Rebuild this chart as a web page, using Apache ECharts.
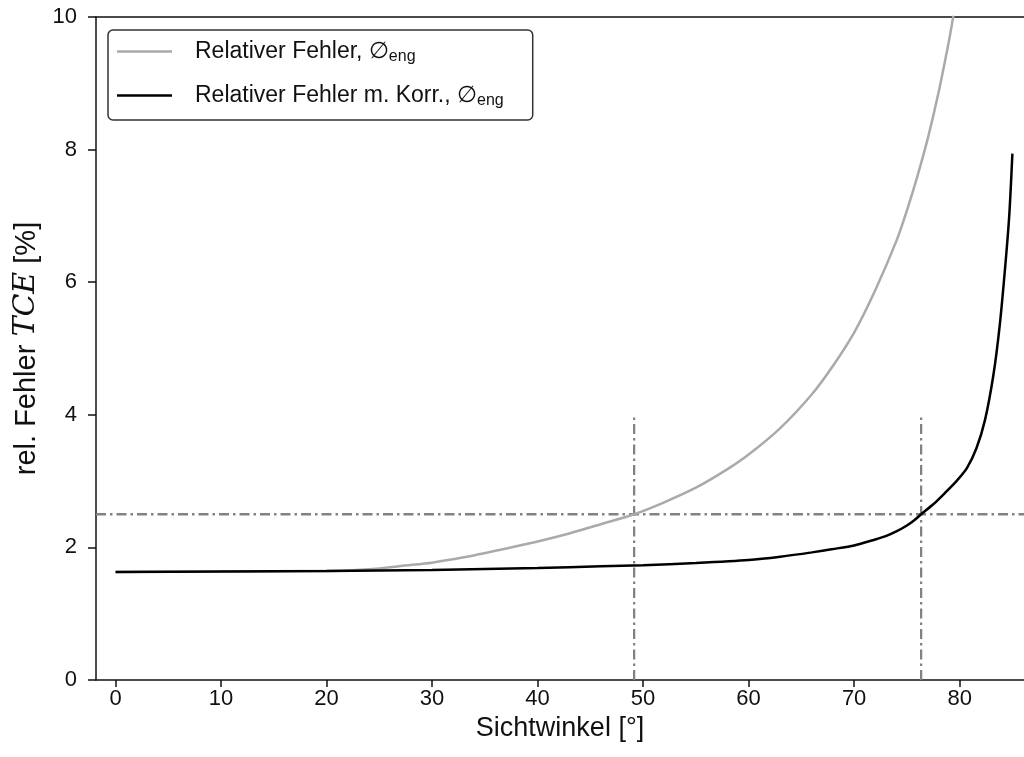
<!DOCTYPE html>
<html>
<head>
<meta charset="utf-8">
<script src="https://cdn.jsdelivr.net/npm/echarts@6/dist/echarts.min.js"></script>
<style>html,body{margin:0;padding:0;background:#fff;}#c{width:1024px;height:757px;}</style>
</head>
<body>
<div id="c"></div>
<script>
// Data
const xTicks = [0, 10, 20, 30, 40, 50, 60, 70, 80];
const grayX = [0, 5, 10, 15, 20, 22, 25, 27, 30, 33, 36, 40, 43, 46, 49.15, 52, 55, 58, 60, 63, 66, 68, 70, 72, 74, 75, 76, 77, 78, 79, 79.3, 79.7];
const grayY = [1.63, 1.632, 1.635, 1.64, 1.645, 1.65, 1.68, 1.72, 1.77, 1.85, 1.95, 2.09, 2.21, 2.35, 2.5, 2.68, 2.9, 3.18, 3.4, 3.8, 4.31, 4.74, 5.24, 5.88, 6.62, 7.08, 7.6, 8.18, 8.86, 9.65, 9.92, 10.3];
const blackX = [0, 10, 20, 30, 40, 46, 50, 55, 60, 63, 66, 68, 70, 72, 73, 74, 75, 75.7, 76.35, 77.5, 78.6, 79.7, 80.7, 81.6, 82.4, 83.2, 83.8, 84.3, 84.7, 85];
const blackY = [1.63, 1.635, 1.645, 1.66, 1.69, 1.715, 1.73, 1.765, 1.81, 1.86, 1.925, 1.975, 2.03, 2.12, 2.17, 2.24, 2.33, 2.41, 2.5, 2.65, 2.82, 3.0, 3.2, 3.5, 3.92, 4.6, 5.35, 6.2, 7.0, 7.94];
const refLevel = 2.5;
const cutoffX = [49.15, 76.35];
const cutoffTop = 4;
const xMin = -1.85, xMax = 86.1;

const zip = (a, b) => a.map((v, i) => [v, b[i]]);
const font = 'Liberation Sans, Arial, sans-serif';
const dashDot = [10, 4, 2.5, 4];
const refColor = '#828282';
const ink = '#111';

const chart = echarts.init(document.getElementById('c'), null, {renderer: 'canvas'});
const refSeries = [
  {
    type: 'line', data: [[xMin, refLevel], [xMax, refLevel]], symbol: 'none', silent: true,
    lineStyle: {color: refColor, width: 2.3, type: dashDot}, z: 1
  }
].concat(cutoffX.map(x => ({
  type: 'line', data: [[x, 0], [x, cutoffTop]], symbol: 'none', silent: true,
  lineStyle: {color: refColor, width: 2.3, type: dashDot}, z: 1
})));

chart.setOption({
  animation: false,
  backgroundColor: '#fff',
  grid: {left: 96, right: 0, top: 17, bottom: 77, containLabel: false},
  legend: {
    left: 108, top: 30, orient: 'vertical',
    data: ['gray', 'black'],
    icon: 'rect',
    backgroundColor: '#fff', borderColor: '#333', borderWidth: 1.5, borderRadius: 5,
    padding: [8, 29, 11, 9],
    itemWidth: 55, itemHeight: 2.5, itemGap: 17,
    formatter: function (name) {
      if (name === 'gray') return '{t|Relativer Fehler, ∅}{s|eng}';
      return '{t|Relativer Fehler m. Korr., ∅}{s|eng}';
    },
    textStyle: {
      padding: [0, 0, 0, 18],
      rich: {
        t: {fontSize: 23, lineHeight: 27, fontFamily: font, color: ink},
        s: {fontSize: 16, lineHeight: 27, fontFamily: font, color: ink, padding: [11, 0, 0, 0]}
      }
    }
  },
  xAxis: [{
    type: 'value', min: xMin, max: xMax,
    name: 'Sichtwinkel [°]', nameLocation: 'middle', nameGap: 20,
    nameTextStyle: {fontSize: 27, fontFamily: font, color: ink},
    axisLine: {show: true, onZero: false, lineStyle: {color: ink, width: 1.5}},
    axisTick: {show: true, length: 7, inside: false, customValues: xTicks, lineStyle: {color: ink, width: 1.5}},
    axisLabel: {show: true, margin: 8, fontSize: 22, fontFamily: font, color: ink, customValues: xTicks},
    splitLine: {show: false}
  }, {
    type: 'value', position: 'top', min: xMin, max: xMax,
    axisLine: {show: true, onZero: false, lineStyle: {color: ink, width: 1.5}},
    axisTick: {show: false}, axisLabel: {show: false}, splitLine: {show: false}
  }],
  yAxis: {
    type: 'value', min: 0, max: 10, interval: 2,
    name: '{n|rel. Fehler }{i|TCE}{n| [%]}', nameLocation: 'middle', nameGap: 47, nameRotate: 90,
    nameTextStyle: {
      rich: {
        n: {fontSize: 29, fontFamily: font, color: ink},
        i: {fontSize: 30, fontFamily: 'DejaVu Serif, serif', fontStyle: 'italic', color: ink}
      }
    },
    axisLine: {show: true, onZero: false, lineStyle: {color: ink, width: 1.5}},
    axisTick: {show: true, length: 8, lineStyle: {color: ink, width: 1.5}},
    axisLabel: {margin: 19, fontSize: 22, fontFamily: font, color: ink},
    splitLine: {show: false}
  },
  series: refSeries.concat([
    {
      name: 'gray', type: 'line', data: zip(grayX, grayY), symbol: 'none', smooth: 0.25, clip: true,
      lineStyle: {color: '#aaaaaa', width: 2.5}, itemStyle: {color: '#aaaaaa'}, z: 2
    },
    {
      name: 'black', type: 'line', data: zip(blackX, blackY), symbol: 'none', smooth: 0.25, clip: true,
      lineStyle: {color: '#000000', width: 2.5}, itemStyle: {color: '#000000'}, z: 3
    }
  ])
});
</script>
</body>
</html>
